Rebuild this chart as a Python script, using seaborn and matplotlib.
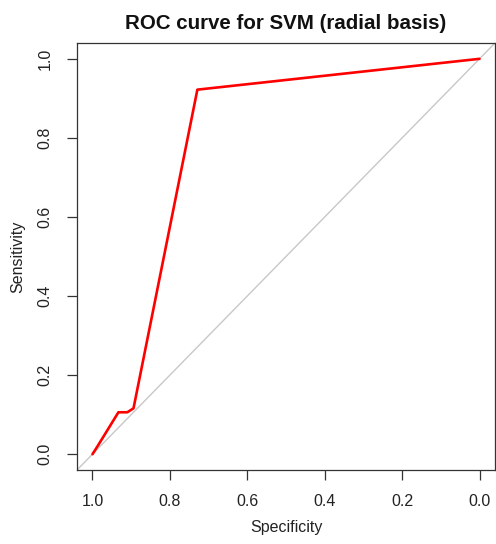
import matplotlib
matplotlib.use("Agg")
import matplotlib.pyplot as plt
import seaborn as sns
import pandas as pd

# ROC operating points (specificity, sensitivity)
specificity = [1.000, 0.987, 0.933, 0.910, 0.894, 0.729, 0.000]
sensitivity = [0.000, 0.020, 0.106, 0.106, 0.116, 0.922, 1.000]
tick_values = [0.0, 0.2, 0.4, 0.6, 0.8, 1.0]
tick_labels = ["0.0", "0.2", "0.4", "0.6", "0.8", "1.0"]

roc = pd.DataFrame({"Specificity": specificity, "Sensitivity": sensitivity})

sns.set_style("white")
plt.rcParams["font.family"] = ["Liberation Sans", "DejaVu Sans"]

fig = plt.figure(figsize=(4.96, 5.44), dpi=100)
ax = fig.add_axes([77 / 496, (544 - 470) / 544, (495 - 77) / 496, (470 - 43) / 544])

# chance diagonal across the whole plotting region
ax.axline((1, 0), (0, 1), color="#c8c8c8", lw=1.0, zorder=1)
sns.lineplot(data=roc, x="Specificity", y="Sensitivity", sort=False,
             color="#ff0000", lw=1.9, ax=ax, zorder=2)

ax.set_xlim(1.04, -0.04)
ax.set_ylim(-0.04, 1.04)
ax.set_xticks(tick_values)
ax.set_xticklabels(tick_labels)
ax.set_yticks(tick_values)
ax.set_yticklabels(tick_labels, rotation=90, va="center")

for s in ax.spines.values():
    s.set_visible(True)
    s.set_color("#333333")
    s.set_linewidth(0.9)

ax.tick_params(axis="both", which="both", direction="out", length=7, width=0.9,
               color="#333333", labelsize=11.5, pad=10.5, labelcolor="#222222",
               bottom=True, left=True)

ax.set_xlabel("Specificity", fontsize=11.5, color="#222222", labelpad=8)
ax.set_ylabel("Sensitivity", fontsize=11.5, color="#222222", labelpad=9)
ax.set_title("ROC curve for SVM (radial basis)", fontsize=14.8,
             fontweight="bold", color="#111111", pad=10)

fig.savefig("out.png", dpi=100)
